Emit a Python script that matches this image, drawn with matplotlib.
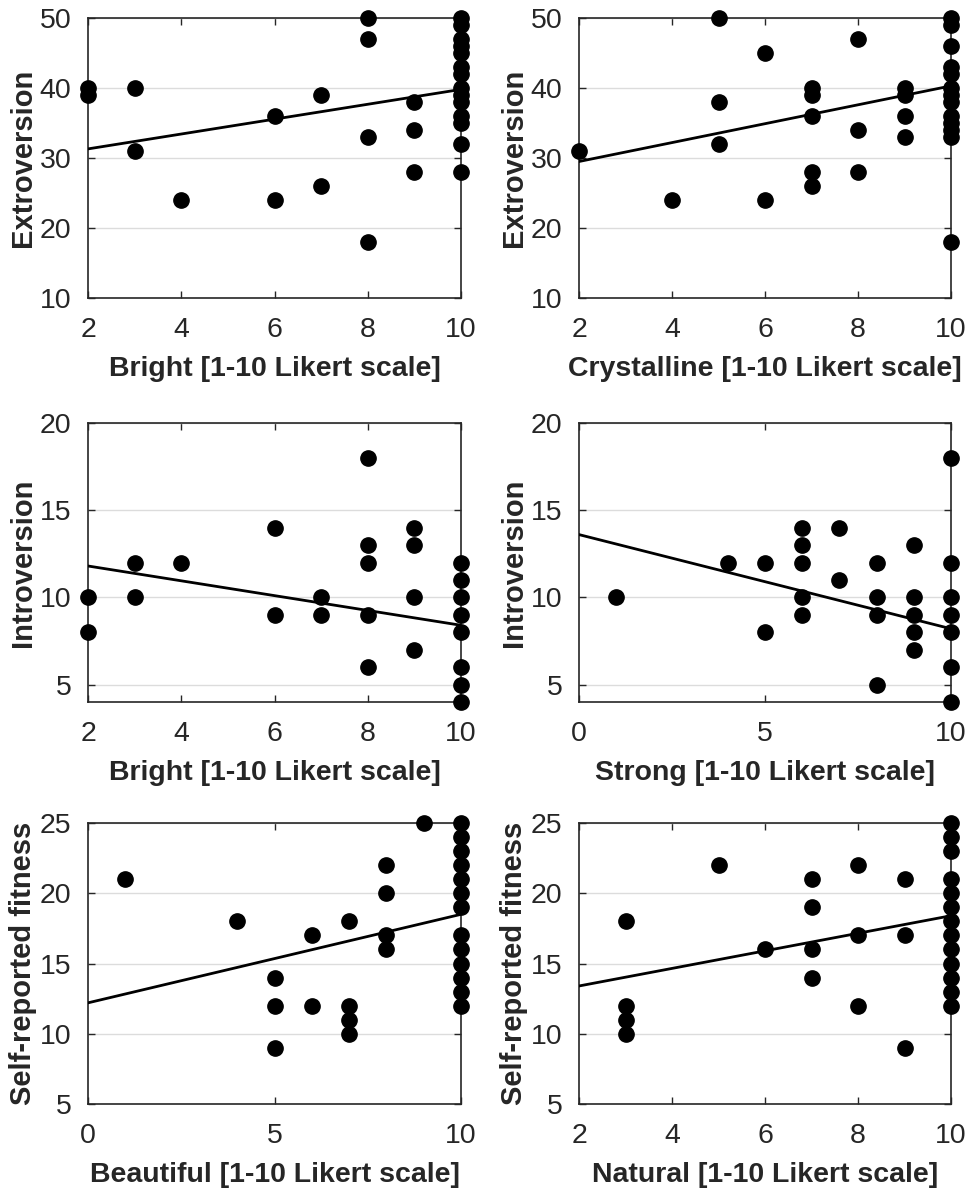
import numpy as np
import matplotlib
matplotlib.use("Agg")
import matplotlib.pyplot as plt

plt.rcParams['font.family'] = ['Liberation Sans', 'DejaVu Sans']

# Panel data: x is the Likert rating, y the personality / fitness score
bright_x = [2, 2, 3, 3, 4, 6, 6, 7, 7, 8, 8, 8, 8, 9, 9, 9,
            10, 10, 10, 10, 10, 10, 10, 10, 10, 10, 10, 10, 10, 10]
bright_extro = [40, 39, 40, 31, 24, 36, 24, 39, 26, 50, 47, 33, 18, 38, 34, 28,
                50, 49, 47, 46, 45, 43, 42, 40, 39, 38, 36, 35, 32, 28]

cryst_x = [2, 4, 5, 5, 5, 6, 6, 7, 7, 7, 7, 7, 8, 8, 8, 9, 9, 9, 9,
           10, 10, 10, 10, 10, 10, 10, 10, 10, 10, 10, 10, 10]
cryst_extro = [31, 24, 50, 38, 32, 45, 24, 40, 39, 36, 28, 26, 47, 34, 28, 40, 39, 36, 33,
               50, 49, 46, 43, 42, 40, 39, 38, 36, 35, 34, 33, 18]

bright2_x = [2, 2, 3, 3, 4, 6, 6, 7, 7, 8, 8, 8, 8, 8, 9, 9, 9, 9,
             10, 10, 10, 10, 10, 10, 10, 10]
bright_intro = [10, 8, 12, 10, 12, 14, 9, 10, 9, 18, 13, 12, 9, 6, 14, 13, 10, 7,
                12, 11, 10, 9, 8, 6, 5, 4]

strong_x = [1, 4, 5, 5, 6, 6, 6, 6, 6, 7, 7, 8, 8, 8, 8, 9, 9, 9, 9, 9,
            10, 10, 10, 10, 10, 10, 10]
strong_intro = [10, 12, 12, 8, 14, 13, 12, 10, 9, 14, 11, 12, 10, 9, 5, 13, 10, 9, 8, 7,
                18, 12, 10, 9, 8, 6, 4]

beaut_x = [1, 4, 5, 5, 5, 6, 6, 7, 7, 7, 7, 8, 8, 8, 8, 9,
           10, 10, 10, 10, 10, 10, 10, 10, 10, 10, 10, 10, 10]
beaut_fit = [21, 18, 14, 12, 9, 17, 12, 18, 12, 11, 10, 22, 20, 17, 16, 25,
             25, 24, 23, 22, 21, 20, 19, 17, 16, 15, 14, 13, 12]

nat_x = [3, 3, 3, 3, 5, 6, 7, 7, 7, 7, 8, 8, 8, 9, 9, 9,
         10, 10, 10, 10, 10, 10, 10, 10, 10, 10, 10, 10, 10]
nat_fit = [18, 12, 11, 10, 22, 16, 21, 19, 16, 14, 22, 17, 12, 21, 17, 9,
           25, 24, 23, 21, 20, 19, 18, 17, 16, 15, 14, 13, 12]

# Least-squares lines, end points at the x-axis limits
fit_ends = {
    'bright_extro': ([2, 10], [31.3, 39.8]),
    'cryst_extro': ([2, 10], [29.5, 40.3]),
    'bright_intro': ([2, 10], [11.8, 8.4]),
    'strong_intro': ([0, 10], [13.6, 8.2]),
    'beaut_fit': ([0, 10], [12.2, 18.5]),
    'nat_fit': ([2, 10], [13.4, 18.4]),
}

panels = [
    (bright_x, bright_extro, 'bright_extro', 'Bright [1-10 Likert scale]', 'Extroversion',
     (2, 10), [2, 4, 6, 8, 10], (10, 50), [10, 20, 30, 40, 50]),
    (cryst_x, cryst_extro, 'cryst_extro', 'Crystalline [1-10 Likert scale]', 'Extroversion',
     (2, 10), [2, 4, 6, 8, 10], (10, 50), [10, 20, 30, 40, 50]),
    (bright2_x, bright_intro, 'bright_intro', 'Bright [1-10 Likert scale]', 'Introversion',
     (2, 10), [2, 4, 6, 8, 10], (4, 20), [5, 10, 15, 20]),
    (strong_x, strong_intro, 'strong_intro', 'Strong [1-10 Likert scale]', 'Introversion',
     (0, 10), [0, 5, 10], (4, 20), [5, 10, 15, 20]),
    (beaut_x, beaut_fit, 'beaut_fit', 'Beautiful [1-10 Likert scale]', 'Self-reported fitness',
     (0, 10), [0, 5, 10], (5, 25), [5, 10, 15, 20, 25]),
    (nat_x, nat_fit, 'nat_fit', 'Natural [1-10 Likert scale]', 'Self-reported fitness',
     (2, 10), [2, 4, 6, 8, 10], (5, 25), [5, 10, 15, 20, 25]),
]

W, H = 971, 1188
fig = plt.figure(figsize=(W / 100, H / 100), dpi=100)

lefts = [88, 579]
widths = [373, 372]
tops = [18, 423, 823]
heights = [280, 279, 281]

frame = '#262626'
for i, (x, y, key, xlab, ylab, xlim, xt, ylim, yt) in enumerate(panels):
    r, c = divmod(i, 2)
    ax = fig.add_axes([lefts[c] / W, 1 - (tops[r] + heights[r]) / H,
                       widths[c] / W, heights[r] / H])
    ax.set_xlim(*xlim)
    ax.set_ylim(*ylim)
    ax.set_xticks(xt)
    ax.set_yticks(yt)
    ax.grid(axis='y', color='#dcdcdc', linewidth=1.0)
    ax.set_axisbelow(True)
    lx, ly = fit_ends[key]
    ax.plot(lx, ly, color='black', linewidth=2.0, zorder=3)
    ax.plot(x, y, 'o', color='black', markersize=11, clip_on=False, zorder=4)
    for s in ax.spines.values():
        s.set_color(frame)
        s.set_linewidth(1.2)
    ax.tick_params(direction='in', length=5, width=1.0, colors=frame,
                   top=True, right=True, labelsize=20.5)
    ax.tick_params(axis='x', pad=14)
    ax.tick_params(axis='y', pad=12)
    ax.set_xlabel(xlab, fontsize=20.5, fontweight='bold', color=frame)
    ax.set_ylabel(ylab, fontsize=21, fontweight='bold', color=frame)
    ax.xaxis.set_label_coords(0.5, -0.208)
    ax.yaxis.set_label_coords(-0.137, 0.5)

fig.savefig('out.png', dpi=100)
